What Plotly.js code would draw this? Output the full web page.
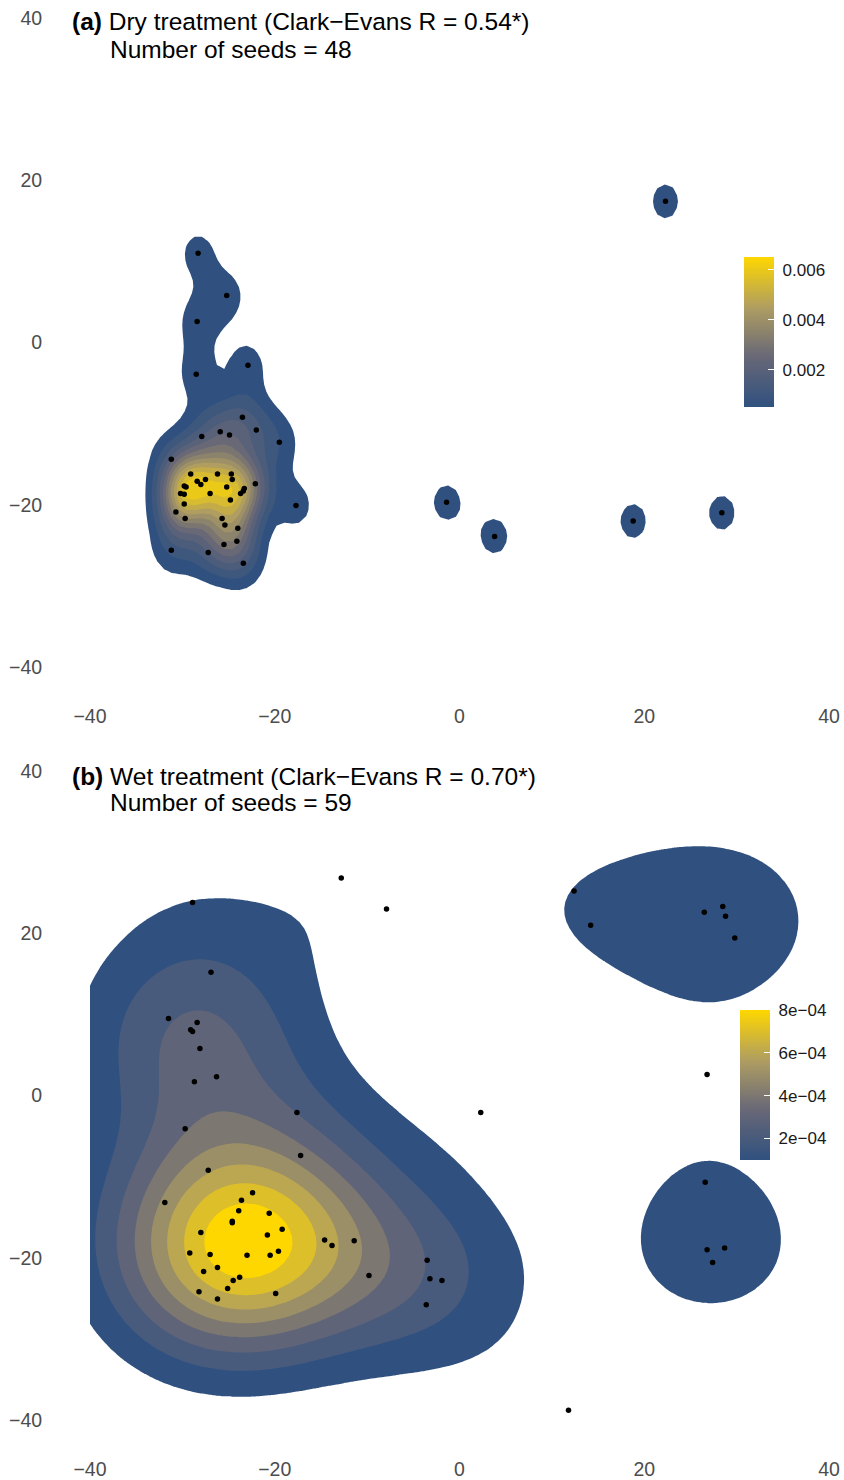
<!DOCTYPE html>
<html><head><meta charset="utf-8">
<script src="https://cdn.plot.ly/plotly-3.0.1.min.js"></script>
<style>html,body{margin:0;padding:0;background:#fff}#chart{width:844px;height:1480px}</style>
</head><body><div id="chart"></div>
<script>
// ---- data (seed coordinates) ----
const dryX = [-28.3,-25.2,-28.4,-28.5,-22.9,-23.5,-27.9,-25.9,-24.9,-22.0,-19.5,-31.2,-29.1,-26.2,-24.7,-24.6,-27.5,-28.4,-28.0,-29.8,-29.6,-25.2,-22.1,-23.3,-23.4,-23.7,-30.2,-29.8,-27.0,-24.8,-29.8,-17.7,-30.7,-29.7,-25.7,-25.4,-24.0,-24.1,-25.5,-31.2,-27.2,-23.4,22.3,-1.4,3.8,18.8,28.4];
const dryY = [11.0,5.8,2.6,-3.9,-2.8,-9.2,-11.6,-11.0,-11.4,-10.8,-12.3,-14.4,-16.2,-16.2,-16.2,-16.9,-16.9,-17.1,-17.5,-17.7,-17.8,-17.8,-17.4,-18.0,-18.3,-18.6,-18.6,-18.7,-18.6,-19.4,-19.9,-20.1,-20.9,-21.7,-21.7,-22.5,-22.9,-24.5,-24.9,-25.6,-25.9,-27.2,17.4,-19.7,-23.9,-22.0,-21.0];
const wetX = [-28.9,-26.9,-31.5,-28.4,-29.1,-28.9,-28.1,-26.3,-28.7,-17.6,-29.7,-17.2,-27.2,-31.9,-22.4,-23.6,-23.9,-24.6,-24.6,-20.6,-28.0,-19.2,-20.8,-14.6,-13.8,-11.4,-29.2,-27.0,-23.0,-20.5,-19.6,-26.2,-27.7,-23.8,-24.5,-25.1,-28.2,-26.2,-19.9,-12.8,-7.9,12.4,2.3,-9.8,-3.5,-3.2,-1.9,-3.6,11.8,14.2,26.5,28.5,28.8,29.8,26.8,26.6,26.8,28.7,27.4];
const wetY = [23.8,15.2,9.5,9.0,8.1,7.9,5.8,2.3,1.7,-2.1,-4.1,-7.4,-9.2,-13.2,-12.0,-12.9,-14.2,-15.5,-15.7,-14.5,-16.9,-16.5,-17.2,-17.8,-18.5,-17.9,-19.4,-19.6,-19.7,-19.7,-19.2,-21.2,-21.7,-22.4,-22.8,-23.8,-24.2,-25.1,-24.4,26.8,23.0,25.2,-2.1,-22.2,-20.3,-22.6,-22.8,-25.8,-38.8,21.0,22.6,23.3,22.1,19.4,2.6,-10.7,-19.0,-18.8,-20.6];

const titleDryTag = '(a)';
const titleDry = 'Dry treatment (Clark\u2212Evans R = 0.54*)';
const subDry = 'Number of seeds = 48';
const titleWetTag = '(b)';
const titleWet = 'Wet treatment (Clark\u2212Evans R = 0.70*)';
const subWet = 'Number of seeds = 59';

const axisTickVals = [-40,-20,0,20,40];
const axisTickText = ['\u221240','\u221220','0','20','40'];
const dryBarVals = [0.002,0.004,0.006];
const dryBarText = ['0.002','0.004','0.006'];
const wetBarVals = [2e-4,4e-4,6e-4,8e-4];
const wetBarText = ['2e\u221204','4e\u221204','6e\u221204','8e\u221204'];

const gradStops = [[0,'#30517F'],[0.33,'#676777'],[0.66,'#AE9D62'],[1,'#FFD700']];

// ---- helpers ----
function hexToRgb(h){return [parseInt(h.slice(1,3),16),parseInt(h.slice(3,5),16),parseInt(h.slice(5,7),16)];}
function gradColor(t){
  for(let i=1;i<gradStops.length;i++){
    if(t<=gradStops[i][0]){
      const a=gradStops[i-1],b=gradStops[i];
      const f=(t-a[0])/(b[0]-a[0]);
      const ca=hexToRgb(a[1]),cb=hexToRgb(b[1]);
      return 'rgb('+ca.map((v,k)=>Math.round(v+(cb[k]-v)*f)).join(',')+')';
    }
  }
  return gradStops[gradStops.length-1][1];
}
function quantile7(arr,p){const s=[...arr].sort((a,b)=>a-b);const h=(s.length-1)*p;const lo=Math.floor(h);const hi=Math.min(lo+1,s.length-1);return s[lo]+(h-lo)*(s[hi]-s[lo]);}
function bwNrd(v){
  const n=v.length;const m=v.reduce((a,b)=>a+b,0)/n;
  const sd=Math.sqrt(v.reduce((a,b)=>a+(b-m)*(b-m),0)/(n-1));
  const iqr=quantile7(v,0.75)-quantile7(v,0.25);
  return 4*1.06*Math.min(sd,iqr/1.34)*Math.pow(n,-0.2);
}
function kde2d(xs,ys,n,lo,hi){
  const g=[];for(let i=0;i<n;i++)g.push(lo+(hi-lo)*i/(n-1));
  const hx=bwNrd(xs)/4,hy=bwNrd(ys)/4,N=xs.length;
  const phi=u=>Math.exp(-0.5*u*u)/Math.sqrt(2*Math.PI);
  const z=[];let zmax=0;
  for(let j=0;j<n;j++){const row=[];
    for(let i=0;i<n;i++){let s=0;
      for(let k=0;k<N;k++)s+=phi((g[i]-xs[k])/hx)*phi((g[j]-ys[k])/hy);
      s/=(N*hx*hy);row.push(s);if(s>zmax)zmax=s;}
    z.push(row);}
  return {g,z,zmax};
}
function prettyUnit(hi,nint){
  const cell=hi/nint;const U=Math.pow(10,Math.floor(Math.log10(cell)));
  let unit=U;const h=1.5,h5=0.5+1.5*h;
  if(2*U-cell<h*(cell-unit)){unit=2*U;
    if(5*U-cell<h5*(cell-unit)){unit=5*U;
      if(10*U-cell<h*(cell-unit))unit=10*U;}}
  return unit;
}
function densityTraces(xs,ys,xa,ya,barX,barY,barVals,barText){
  const d=kde2d(xs,ys,100,-40,40);
  const unit=prettyUnit(d.zmax,10);
  const K=Math.floor(d.zmax/unit+1e-9);
  const start=unit,end=K*unit;
  const cs=[[0,'rgba(255,255,255,0)']];
  for(let k=0;k<K;k++)cs.push([(k+1)/K,gradColor(K>1?k/(K-1):0)]);
  const barScale=[];for(let i=0;i<=20;i++)barScale.push([i/20,gradColor(i/20)]);
  return [
    {type:'contour',x:d.g,y:d.g,z:d.z,xaxis:xa,yaxis:ya,autocontour:false,
     contours:{start:start,end:end,size:unit,coloring:'fill',showlines:false},
     line:{width:0,smoothing:0},colorscale:cs,showscale:false,hoverinfo:'skip'},
    {type:'scatter',mode:'markers',x:xs,y:ys,xaxis:xa,yaxis:ya,
     marker:{color:'#000000',size:5.5},hoverinfo:'skip'},
    {type:'scatter',mode:'markers',x:[null,null],y:[null,null],xaxis:xa,yaxis:ya,hoverinfo:'skip',
     marker:{color:[start,end],cmin:start,cmax:end,colorscale:barScale,showscale:true,
       colorbar:{x:barX,xanchor:'left',y:barY,yanchor:'middle',thickness:30,thicknessmode:'pixels',
         len:150,lenmode:'pixels',outlinewidth:0,ticks:'inside',ticklen:6,tickwidth:1,tickcolor:'#ffffff',
         tickvals:barVals,ticktext:barText.map(t=>'\u00a0'+t),xpad:0,ypad:0,
         tickfont:{size:17,color:'#1a1a1a',family:'Liberation Sans, Arial, sans-serif'}}}}
  ];
}

const traces=[].concat(
  densityTraces(dryX,dryY,'x','y',0.8838,0.7757,dryBarVals,dryBarText),
  densityTraces(wetX,wetY,'x2','y2',0.878,0.239,wetBarVals,wetBarText)
);

const axX={range:[-40,40],tickvals:axisTickVals,ticktext:axisTickText,showgrid:false,zeroline:false,showline:false,
  ticks:'outside',ticklen:32,tickcolor:'rgba(0,0,0,0)',tickfont:{size:19.5,color:'#4d4d4d'},fixedrange:true};
const axY={range:[-40,40],tickvals:axisTickVals,ticktext:axisTickText,showgrid:false,zeroline:false,showline:false,
  ticks:'outside',ticklen:43,tickcolor:'rgba(0,0,0,0)',tickfont:{size:19.5,color:'#4d4d4d'},fixedrange:true};

const annFont={size:24.5,color:'#000000',family:'Liberation Sans, Arial, sans-serif'};
const layout={
  width:844,height:1480,margin:{l:90,r:14,t:18,b:60},
  paper_bgcolor:'#ffffff',plot_bgcolor:'#ffffff',showlegend:false,
  font:{family:'Liberation Sans, Arial, sans-serif'},
  xaxis:Object.assign({},axX,{domain:[0,1],anchor:'y'}),
  yaxis:Object.assign({},axY,{domain:[0.53709,1],anchor:'x'}),
  xaxis2:Object.assign({},axX,{domain:[0,1],anchor:'y2'}),
  yaxis2:Object.assign({},axY,{domain:[0,0.46291],anchor:'x2'}),
  annotations:[
    {xref:'paper',yref:'paper',x:-0.02703,y:0.99715,xanchor:'left',yanchor:'middle',showarrow:false,font:annFont,text:'<b>'+titleDryTag+'</b> '+titleDry},
    {xref:'paper',yref:'paper',x:0.02432,y:0.97718,xanchor:'left',yanchor:'middle',showarrow:false,font:annFont,text:subDry},
    {xref:'paper',yref:'paper',x:-0.02703,y:0.45934,xanchor:'left',yanchor:'middle',showarrow:false,font:annFont,text:'<b>'+titleWetTag+'</b> '+titleWet},
    {xref:'paper',yref:'paper',x:0.02432,y:0.44009,xanchor:'left',yanchor:'middle',showarrow:false,font:annFont,text:subWet}
  ]
};
Plotly.newPlot('chart',traces,layout,{staticPlot:true,displayModeBar:false});
</script></body></html>
